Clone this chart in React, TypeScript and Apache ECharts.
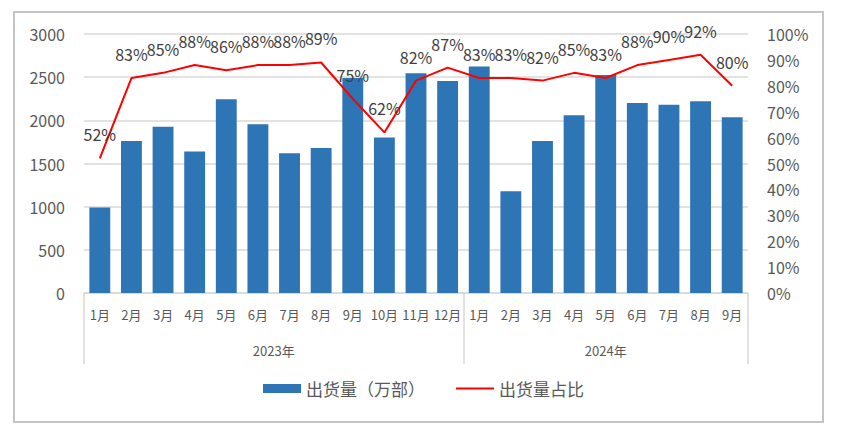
import React, { useEffect, useRef } from "react";
import * as echarts from "echarts";

const months = [
  "1月", "2月", "3月", "4月", "5月", "6月", "7月", "8月", "9月", "10月", "11月", "12月",
  "1月", "2月", "3月", "4月", "5月", "6月", "7月", "8月", "9月",
];
const years = ["2023年", "2024年"];
const monthsPerYear = [12, 9];
const shipments = [
  990, 1760, 1925, 1640, 2245, 1955, 1620, 1680, 2490, 1800, 2545, 2455,
  2625, 1180, 1760, 2060, 2525, 2200, 2180, 2220, 2035,
];
const shares = [
  52, 83, 85, 88, 86, 88, 88, 89, 75, 62, 82, 87,
  83, 83, 82, 85, 83, 88, 90, 92, 80,
];
const leftTicks = { min: 0, max: 3000, interval: 500 };
const rightTicks = { min: 0, max: 100, interval: 10 };

const FONT = "'Noto Sans CJK SC', 'Noto Sans', sans-serif";
const GRID_COLOR = "#d9d9d9";
const TEXT_COLOR = "#595959";

export default function App() {
  const ref = useRef<HTMLDivElement>(null);
  useEffect(() => {
    if (!ref.current) return;
    const chart = echarts.init(ref.current, null, { renderer: "svg" });
    const boundaries: number[] = [0];
    const centers: number[] = [];
    let acc = 0;
    monthsPerYear.forEach((n) => {
      centers.push(acc + n / 2);
      acc += n;
      boundaries.push(acc);
    });
    chart.setOption({
      animation: false,
      backgroundColor: "#ffffff",
      textStyle: { fontFamily: FONT },
      grid: { left: 84, right: 99, top: 34, bottom: 139, containLabel: false },
      legend: {
        bottom: 30,
        left: "center",
        itemGap: 31,
        itemWidth: 38,
        itemHeight: 9,
        textStyle: { fontSize: 17, color: TEXT_COLOR, fontFamily: FONT },
        data: [
          { name: "出货量（万部）", icon: "rect" },
          { name: "出货量占比", icon: "path://M0,0 L38,0 L38,2 L0,2 Z" },
        ],
      },
      graphic: [
        {
          type: "rect",
          shape: { x: 14, y: 12, width: 809, height: 410 },
          style: { fill: "none", stroke: "#c4c4c4", lineWidth: 2 },
          silent: true,
        },
      ],
      xAxis: [
        {
          type: "category",
          data: months,
          axisLine: { lineStyle: { color: GRID_COLOR, width: 1.5 } },
          axisTick: { show: false },
          axisLabel: { color: TEXT_COLOR, fontSize: 13, margin: 15, interval: 0, fontFamily: FONT },
        },
        {
          type: "value",
          min: 0,
          max: acc,
          position: "bottom",
          axisLine: { show: false },
          splitLine: { show: false },
          axisTick: {
            show: true,
            customValues: boundaries,
            length: 71,
            lineStyle: { color: GRID_COLOR, width: 1.5 },
          },
          axisLabel: {
            customValues: centers,
            formatter: (v: number) => years[centers.indexOf(v)] ?? "",
            color: TEXT_COLOR,
            fontSize: 13,
            margin: 51,
            fontFamily: FONT,
          },
        },
      ],
      yAxis: [
        {
          type: "value",
          ...leftTicks,
          axisLine: { show: false },
          axisTick: { show: false },
          splitLine: { lineStyle: { color: GRID_COLOR, width: 1.5 } },
          axisLabel: {
            color: TEXT_COLOR,
            fontSize: 16,
            margin: 19,
            fontFamily: FONT,
            formatter: (v: number) => String(v),
          },
        },
        {
          type: "value",
          ...rightTicks,
          position: "right",
          axisLine: { show: false },
          axisTick: { show: false },
          splitLine: { show: false },
          axisLabel: { color: TEXT_COLOR, fontSize: 16, margin: 19, formatter: "{value}%", fontFamily: FONT },
        },
      ],
      series: [
        {
          name: "出货量（万部）",
          type: "bar",
          data: shipments,
          xAxisIndex: 0,
          yAxisIndex: 0,
          barCategoryGap: "34%",
          itemStyle: { color: "#2e75b6" },
        },
        {
          name: "出货量占比",
          type: "line",
          data: shares,
          xAxisIndex: 0,
          yAxisIndex: 1,
          symbol: "circle",
          symbolSize: 0,
          showSymbol: true,
          lineStyle: { color: "#ff0000", width: 2 },
          itemStyle: { color: "#ff0000" },
          label: {
            show: true,
            position: "top",
            distance: 16,
            formatter: "{c}%",
            fontSize: 16,
            color: "#404040",
            fontFamily: FONT,
          },
        },
      ],
    });
    return () => chart.dispose();
  }, []);
  return (
    <div
      ref={ref}
      style={{ position: "absolute", left: 0, top: 0, width: 847, height: 432 }}
    />
  );
}
